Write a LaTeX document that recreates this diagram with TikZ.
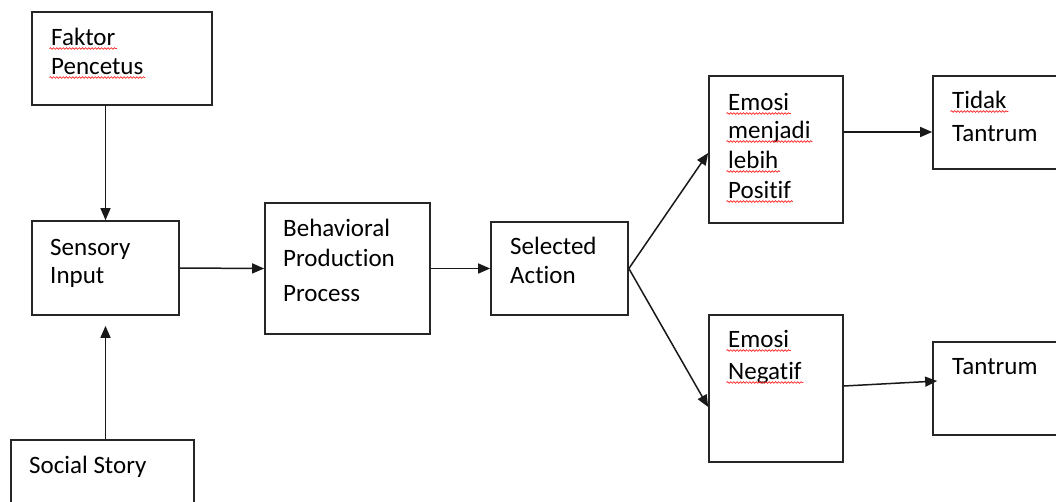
\documentclass[tikz,border=0pt]{standalone}
\usepackage{fontspec}
\setmainfont[Ligatures={NoCommon}]{Carlito}
\usetikzlibrary{arrows.meta,fit,decorations.pathmorphing}
\begin{document}
\begin{tikzpicture}[x=1pt,y=-1pt,
  box/.style={draw=black!85, line width=1.7pt, rectangle, inner sep=0pt, fill=none},
  txt/.style={anchor=base west, inner sep=0pt, text=black, font=\fontsize{25}{30}\selectfont},
  arr/.style={draw=black!90, line width=1.5pt, -{Triangle[length=12pt,width=10pt]}},
  squig/.style={draw=red!85, line width=0.7pt, decorate, decoration={snake, amplitude=0.8pt, segment length=3.2pt}}
]
\useasboundingbox (0,0) rectangle (1056,501);
\clip (0,0) rectangle (1056,501);
\fill[white] (0,0) rectangle (1056,501);

% boxes
\node[box, fit={(32,12) (212,105)}] (fak) {};
\node[box, fit={(32,221) (179,315)}] (sen) {};
\node[box, fit={(11,440) (194,530)}] (soc) {};
\node[box, fit={(265,203) (430,334)}] (beh) {};
\node[box, fit={(491,222) (628,315)}] (sel) {};
\node[box, fit={(709,76) (843,223)}] (emp) {};
\node[box, fit={(933,76) (1080,169)}] (tid) {};
\node[box, fit={(709,315) (843,462)}] (neg) {};
\node[box, fit={(933,342) (1080,435)}] (tan) {};

% texts
\node[txt] (w1) at (51,45) {Faktor};
\node[txt] (w2) at (51,74) {Pencetus};
\node[txt] (w3) at (50,255) {Sensory};
\node[txt] (w4) at (50,283) {Input};
\node[txt] (w5) at (29,473) {Social Story};
\node[txt] (w6) at (283,236) {Behavioral};
\node[txt] (w7) at (283,266) {Production};
\node[txt] (w8) at (283,301) {Process};
\node[txt] (w9) at (510,254) {Selected};
\node[txt] (w10) at (510,283) {Action};
\node[txt] (w11) at (728,110) {Emosi};
\node[txt] (w12) at (728,138) {menjadi};
\node[txt] (w13) at (728,168) {lebih};
\node[txt] (w14) at (728,198) {Positif};
\node[txt] (w15) at (952,108) {Tidak};
\node[txt] (w16) at (952,141) {Tantrum};
\node[txt] (w17) at (728,347) {Emosi};
\node[txt] (w18) at (728,379) {Negatif};
\node[txt] (w19) at (952,374) {Tantrum};

% spelling squiggles
\foreach \w in {w1,w2,w11,w12,w13,w14,w15,w17,w18}{
  \draw[squig] ([xshift=-1.5pt,yshift=-3.5pt]\w.base west) -- ([xshift=1.5pt,yshift=-3.5pt]\w.base east);
}

% connectors
\draw[arr] (fak.south -| sen.north) -- (sen.north);
\draw[arr] (soc.north -| sen.south) -- ([yshift=-10pt]sen.south);
\draw[arr] (sen.east) -- (beh.west);
\draw[arr] (beh.east) -- (sel.west);
\draw[arr] (sel.east) -- ([yshift=-3.5pt]emp.west);
\draw[arr] (sel.east) -- ([yshift=-18.5pt]neg.west);
\draw[arr] ([yshift=17.5pt]emp.east) -- ([yshift=-9.5pt]tid.west);
\draw[arr] ([yshift=2.5pt]neg.east) -- ([xshift=5pt,yshift=7.5pt]tan.west);
\end{tikzpicture}
\end{document}
